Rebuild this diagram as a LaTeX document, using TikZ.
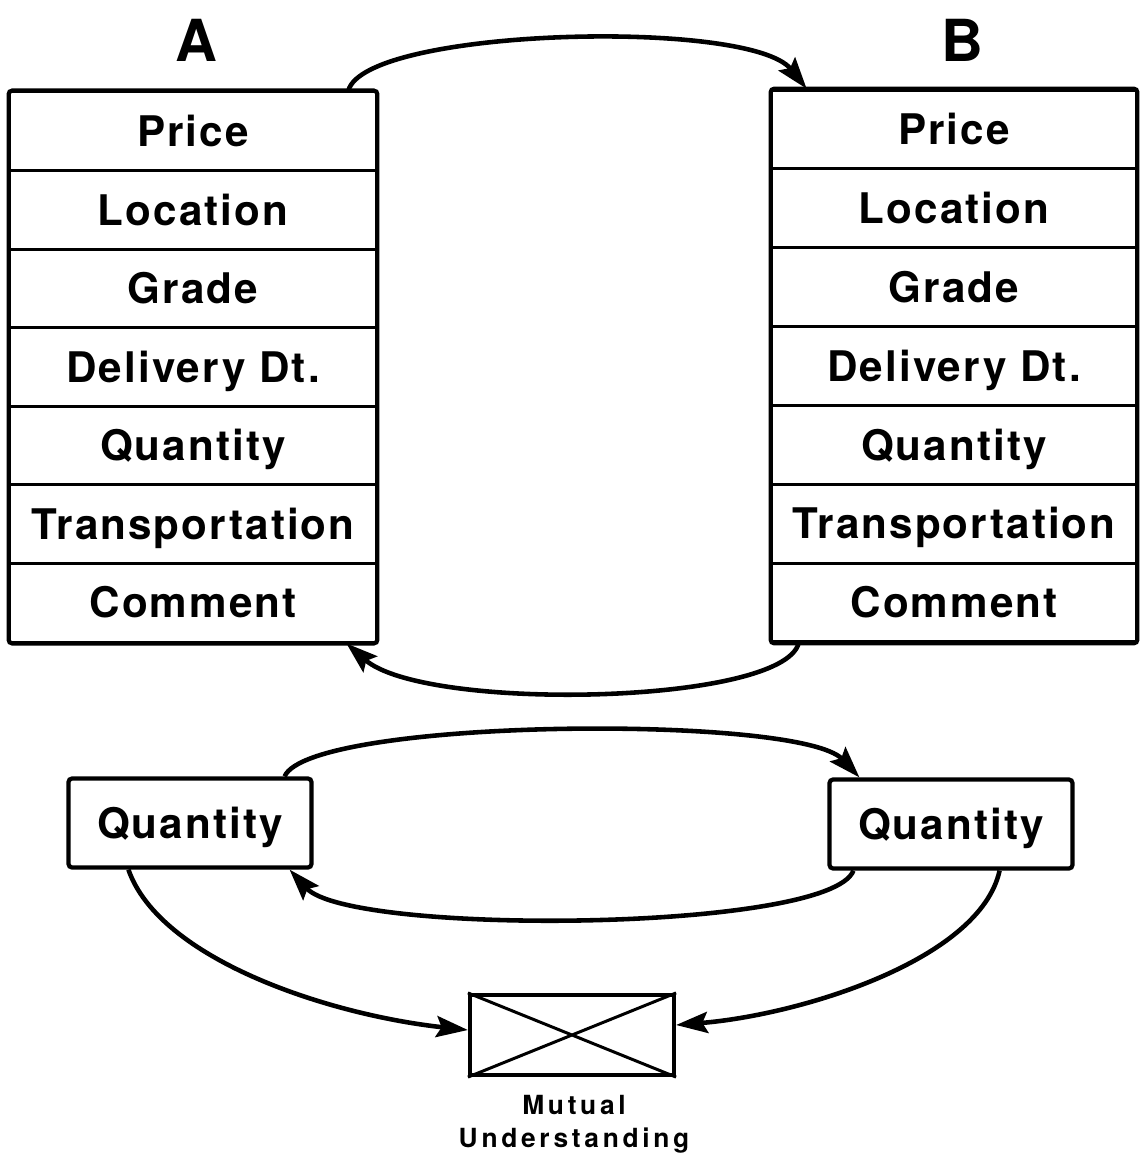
\documentclass[tikz,border=0pt]{standalone}
\usepackage{fontspec}
\setmainfont{TeX Gyre Heros}[LetterSpace=5]
\newfontfamily\headfont{TeX Gyre Heros}
\newfontfamily\notefont{TeX Gyre Heros}[LetterSpace=14]
\usetikzlibrary{arrows.meta,calc}
\begin{document}
\begin{tikzpicture}[x=0.02cm,y=-0.02cm,
  label/.style={font=\bfseries\fontsize{24}{28}\selectfont, text height=17.2pt, text depth=0pt},
  cell/.style={label, draw, line width=1.6pt, inner sep=0pt, minimum height=1.572cm},
  cellA/.style={cell, minimum width=7.32cm},
  cellB/.style={cell, minimum width=7.28cm},
  frame/.style={line width=2.4pt, rounded corners=2pt},
  qbox/.style={label, draw, line width=2.4pt, rounded corners=2pt, inner sep=0pt, minimum height=1.78cm, minimum width=4.86cm},
  flow/.style={line width=2.6pt, -{Stealth[length=18pt,width=12pt,inset=3pt]}},
  title/.style={font=\headfont\bfseries\fontsize{33}{38}\selectfont, text height=24pt, text depth=0pt},
  note/.style={font=\notefont\bfseries\fontsize{15}{19}\selectfont, align=center}
]
\useasboundingbox (0,0) rectangle (1141,1160);

% party headings
\node[title] (ta) at (196,40) {A};
\node[title] (tb) at (962,40) {B};

% left list of terms
\node[cellA] (a1) at (193,131.3) {Price};
\node[cellA] (a2) at (193,209.9) {Location};
\node[cellA] (a3) at (193,288.5) {Grade};
\node[cellA] (a4) at (193,367.0) {Delivery Dt.};
\node[cellA] (a5) at (193,445.6) {Quantity};
\node[cellA] (a6) at (193,524.2) {Transportation};
\node[cellA] (a7) at (193,602.7) {Comment};
\draw[frame] (a1.north west) rectangle (a7.south east);

% right list of terms
\node[cellB] (b1) at (954,129.4) {Price};
\node[cellB] (b2) at (954,208.3) {Location};
\node[cellB] (b3) at (954,287.2) {Grade};
\node[cellB] (b4) at (954,366.0) {Delivery Dt.};
\node[cellB] (b5) at (954,444.9) {Quantity};
\node[cellB] (b6) at (954,523.7) {Transportation};
\node[cellB] (b7) at (954,602.6) {Comment};
\draw[frame] (b1.north west) rectangle (b7.south east);

% exchange between the full lists
\draw[flow] ($(a1.north east)+(-29,0)$) .. controls (365,28) and (750,18) .. ($(b1.north west)+(36,0)$);
\draw[flow] ($(b7.south west)+(28,0)$) .. controls (782,705) and (425,712) .. ($(a7.south east)+(-31,0)$);

% single term under negotiation
\node[qbox] (qa) at (190,823) {Quantity};
\node[qbox] (qb) at (951,824) {Quantity};
\draw[flow] ($(qa.north east)+(-29,0)$) .. controls (310,718) and (800,714) .. ($(qb.north west)+(32,0)$);
\draw[flow] ($(qb.south west)+(26,0)$) .. controls (830,932) and (350,936) .. ($(qa.south east)+(-24,0)$);

% agreement
\node[draw, line width=2.4pt, inner sep=0pt, minimum width=4.08cm, minimum height=1.6cm] (mu) at (572,1035) {};
\draw[line width=1.7pt] (mu.north west) -- (mu.south east) (mu.north east) -- (mu.south west);
\node[note] (mutxt) at (574,1124) {Mutual\\Understanding};

\draw[flow] ($(qa.south west)+(62,0)$) .. controls (160,960) and (330,1015) .. ($(mu.west)+(0,-5)$);
\draw[flow] ($(qb.south east)+(-75,0)$) .. controls (980,960) and (800,1015) .. ($(mu.east)+(0,-10)$);
\end{tikzpicture}
\end{document}
